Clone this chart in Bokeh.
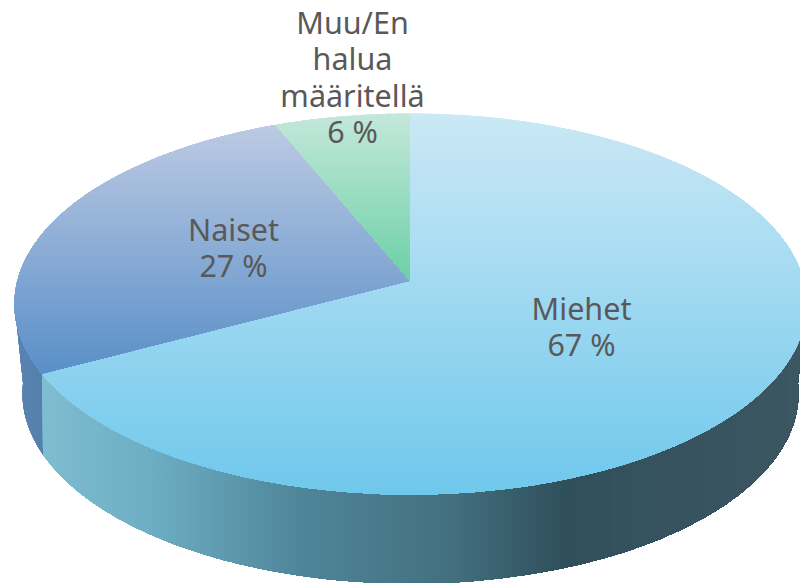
import math
from bokeh.plotting import figure
from bokeh.models import Range1d
from bokeh.core.properties import value
from bokeh.embed import file_html
from bokeh.resources import INLINE

# ---- data
categories = ["Miehet", "Naiset", "Muu/En halua määritellä"]
shares = [67, 27, 6]
percent_labels = ["67 %", "27 %", "6 %"]
label_lines = [["Miehet"], ["Naiset"], ["Muu/En", "halua", "määritellä"]]

# ---- styling / geometry (reference pixel space)
REF_W, REF_H = 800, 583
top_ell = dict(cx=410.0, cy=303.5, rx=396.0, ry=190.5, vy=281.0)
bot_ell = dict(cx=410.0, cy=393.0, rx=388.0, ry=190.0, vy=361.0)
TILT = 0.46
face_grad = [("#cbe8f5", "#6fc8ec", 113, 494), ("#bccae3", "#5a8fc8", 126, 372), ("#c4e8da", "#6cd0a6", 113, 281)]
miehet_wall = [(40, "#7fbdd0"), (150, "#6daec4"), (300, "#4f8599"), (450, "#43707f"),
               (565, "#2f4f5b"), (640, "#35525f"), (810, "#3d5662")]
naiset_wall = [(14, "#5a85b3"), (50, "#537ea9")]
label_x = [581, 233, 352]
label_first_y = [307, 228, 21]
LINE_H = 36.6
FONT_PX = 30.5


def h2rgb(h):
    return tuple(int(h[i:i + 2], 16) for i in (1, 3, 5))


def mix(a, b, t):
    t = max(0.0, min(1.0, t))
    ra, rb = h2rgb(a), h2rgb(b)
    return "#%02x%02x%02x" % tuple(round(x + (y - x) * t) for x, y in zip(ra, rb))


def ramp(stops, x):
    if x <= stops[0][0]:
        return stops[0][1]
    for (x0, c0), (x1, c1) in zip(stops, stops[1:]):
        if x <= x1:
            return mix(c0, c1, (x - x0) / (x1 - x0))
    return stops[-1][1]


def rim(e, theta):
    """Point where the ray of pie angle theta leaves the ellipse e."""
    dx, dy = math.sin(theta), -math.cos(theta) * TILT
    ox, oy = 0.0, e["vy"] - e["cy"]
    a = (dx / e["rx"]) ** 2 + (dy / e["ry"]) ** 2
    b = 2 * (ox * dx / e["rx"] ** 2 + oy * dy / e["ry"] ** 2)
    c = (ox / e["rx"]) ** 2 + (oy / e["ry"]) ** 2 - 1
    s = (-b + math.sqrt(b * b - 4 * a * c)) / (2 * a)
    return e["cx"] + s * dx, e["vy"] + s * dy


def arc(e, t0, t1, n=160):
    return [rim(e, t0 + (t1 - t0) * i / n) for i in range(n + 1)]


def clip(poly, axis, limit):
    """Keep the part of poly at or beyond limit on the given axis."""
    out = []
    for i, p in enumerate(poly):
        q = poly[(i + 1) % len(poly)]
        pin, qin = p[axis] >= limit, q[axis] >= limit
        if pin:
            out.append(p)
        if pin != qin:
            t = (limit - p[axis]) / (q[axis] - p[axis])
            out.append((p[0] + (q[0] - p[0]) * t, p[1] + (q[1] - p[1]) * t))
    return out


def bands(poly, axis, lo, hi, step, colour_at):
    """Painter's gradient: each layer covers the rest of poly, so no seams appear."""
    xs, ys, cs = [], [], []
    v = lo
    while v < hi:
        part = clip(poly, axis, v)
        if len(part) > 2:
            xs.append([a for a, _ in part])
            ys.append([b for _, b in part])
            cs.append(colour_at(v + step / 2))
        v += step
    return xs, ys, cs


p = figure(width=REF_W, height=REF_H, x_range=Range1d(0, REF_W), y_range=Range1d(REF_H, 0),
           output_backend="svg", toolbar_location=None, min_border=0,
           outline_line_color=None, background_fill_color="white")
p.axis.visible = False
p.grid.visible = False

total = sum(shares)
edges = [0.0]
for s in shares:
    edges.append(edges[-1] + 2 * math.pi * s / total)

# side walls: only the part of the rim that faces the viewer
samples = [2 * math.pi * i / 720 for i in range(721)]
right_most = max(samples, key=lambda t: rim(top_ell, t)[0])
left_most = min(samples, key=lambda t: rim(top_ell, t)[0])
wall_range = [(right_most, edges[1]), (edges[1], left_most)]
wall_stops = [miehet_wall, naiset_wall]
for i in (1, 0):
    t0, t1 = wall_range[i]
    poly = arc(top_ell, t0, t1) + arc(bot_ell, t0, t1)[::-1]
    stops = wall_stops[i]
    xs, ys, cs = bands(poly, 0, 0, 810, 4, lambda v, st=stops: ramp(st, v))
    p.patches(xs, ys, fill_color=cs, line_color=None)

# top face, vertical gradient
vertex = (top_ell["cx"], top_ell["vy"])
for i in (1, 2, 0):
    poly = [vertex] + arc(top_ell, edges[i], edges[i + 1])
    c0, c1, y0, y1 = face_grad[i]
    xs, ys, cs = bands(poly, 1, 110, 496, 3,
                       lambda v, a=c0, b=c1, u=y0, w=y1: mix(a, b, (v - u) / (w - u)))
    p.patches(xs, ys, fill_color=cs, line_color=None)

# labels
tx, ty, tt = [], [], []
for i in range(len(shares)):
    lines = label_lines[i] + [percent_labels[i]]
    for j, line in enumerate(lines):
        tx.append(label_x[i])
        ty.append(label_first_y[i] + j * LINE_H)
        tt.append(line)
p.text(tx, ty, text=tt, text_align="center", text_baseline="middle",
       text_color="#595959", text_font=value("Noto Sans"), text_font_size=f"{FONT_PX}px")

open("out.html", "w").write(file_html(p, INLINE))
